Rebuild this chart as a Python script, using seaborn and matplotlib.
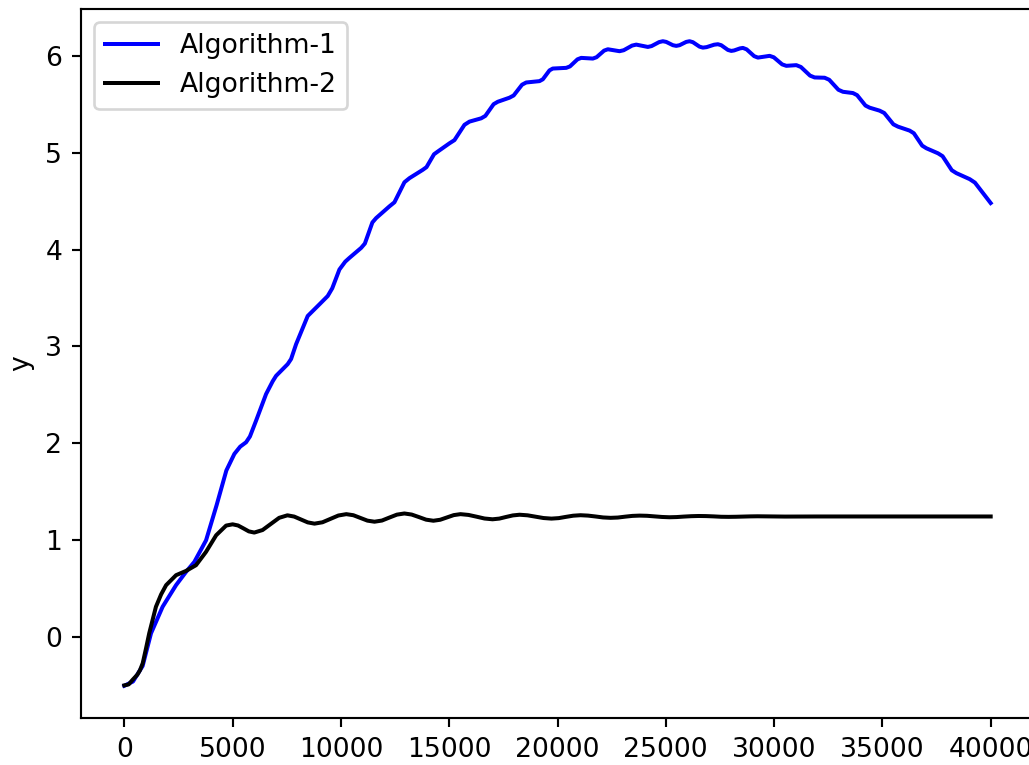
import matplotlib
matplotlib.use("Agg")
import matplotlib.pyplot as plt
import pandas as pd
import seaborn as sns

# Algorithm-1 trajectory (x, y)
algo1_x = [0, 400, 845, 1233, 1769, 2388, 2850, 3233, 3774, 4260, 4711, 5081, 5350,
           5621, 5800, 6083, 6545, 6850, 7007, 7543, 7700, 7931, 8467, 9007, 9390,
           9600, 9931, 10200, 10393, 10933,
           11106, 11453, 11626, 12240, 12471, 12933, 13164, 13778, 13952, 14299,
           14472, 15012, 15243, 15705, 15936, 16476, 16668, 17051, 17243, 17783,
           17976, 18362, 18555, 19169, 19323, 19630, 19783, 20402, 20575, 20922,
           21095, 21631, 21804, 22151, 22324, 22864, 23057, 23443, 23636, 24171,
           24344, 24691, 24864, 25019, 25328, 25483, 25637, 25943, 26097, 26251,
           26557, 26711, 26884, 27231, 27404, 27559, 27868, 28023, 28157, 28425,
           28559, 28732, 29079, 29252, 29793, 29986, 30371, 30564, 31026, 31237,
           31660, 31871, 32333, 32545, 32968, 33179, 33640, 33833, 34218, 34411,
           34873, 35085, 35508, 35719, 36259, 36452, 36837, 37030, 37566, 37779,
           38204, 38416, 39031, 39273, 40000]
algo1_y = [-0.504, -0.460, -0.300, 0.038, 0.312, 0.535, 0.672, 0.775, 0.998, 1.360,
           1.719, 1.890, 1.965, 2.010, 2.070, 2.233, 2.508, 2.640, 2.696, 2.817,
           2.870, 3.023, 3.314, 3.434, 3.520, 3.600, 3.794, 3.875, 3.914, 4.017,
           4.062, 4.280, 4.325, 4.446, 4.488, 4.695,
           4.737, 4.823, 4.851, 4.984, 5.012, 5.097, 5.130, 5.288, 5.321, 5.355,
           5.380, 5.501, 5.526, 5.568, 5.591, 5.702, 5.725, 5.739, 5.758, 5.850,
           5.869, 5.876, 5.891, 5.964, 5.979, 5.972, 5.986, 6.054, 6.068, 6.048,
           6.058, 6.106, 6.116, 6.092, 6.101, 6.142, 6.151, 6.144, 6.110, 6.103,
           6.110, 6.144, 6.151, 6.141, 6.095, 6.085, 6.090, 6.115, 6.120, 6.110,
           6.061, 6.051, 6.056, 6.077, 6.082, 6.067, 5.997, 5.982, 6.000, 5.985,
           5.912, 5.897, 5.904, 5.885, 5.796, 5.777, 5.774, 5.753, 5.650, 5.629,
           5.616, 5.594, 5.487, 5.465, 5.434, 5.410, 5.293, 5.269, 5.228, 5.201,
           5.073, 5.046, 4.994, 4.964, 4.819, 4.789, 4.727, 4.691, 4.480]

# Algorithm-2 trajectory (x, y)
algo2_x = [0, 200, 380, 600, 720, 850, 1000, 1150, 1460, 1700, 1930, 2390, 2850,
           3310, 3770, 4240,
           4700, 5000, 5250, 5500, 5750, 6000, 6383, 6765, 7148, 7530, 7843, 8155,
           8468, 8780, 9148, 9515, 9883, 10250, 10575, 10900, 11225, 11550, 11895,
           12240, 12585, 12930, 13265, 13600, 13935, 14270, 14583, 14895, 15208,
           15520, 15890, 16260, 16630, 17000, 17313, 17625, 17938, 18250, 18618,
           18985, 19353, 19720, 20055, 20390, 20725, 21060, 21408, 21755, 22103,
           22450, 22785, 23120, 23455, 23790, 24135, 24480, 24825, 25170, 25505,
           25840, 26175, 26510, 26858, 27205, 27553, 27900, 28235, 28570, 28905,
           29240, 30500, 32000, 34000, 36000, 38000, 40000]
algo2_y = [-0.50, -0.49, -0.443, -0.39, -0.345, -0.271, -0.12, 0.038, 0.312, 0.44,
           0.535, 0.638, 0.682,
           0.741, 0.878, 1.05, 1.15, 1.163, 1.151, 1.121, 1.090, 1.078, 1.104,
           1.167, 1.230, 1.256, 1.243, 1.213, 1.183, 1.170, 1.184, 1.219, 1.254,
           1.268, 1.257, 1.229, 1.201, 1.190, 1.202, 1.233, 1.263, 1.275, 1.264,
           1.238, 1.211, 1.200, 1.210, 1.234, 1.258, 1.268, 1.260, 1.242, 1.223,
           1.215, 1.222, 1.239, 1.255, 1.262, 1.256, 1.242, 1.228, 1.222, 1.227,
           1.240, 1.252, 1.257, 1.253, 1.244, 1.234, 1.230, 1.233, 1.242, 1.250,
           1.253, 1.251, 1.245, 1.239, 1.236, 1.238, 1.243, 1.247, 1.249, 1.248,
           1.245, 1.241, 1.240, 1.241, 1.243, 1.245, 1.246, 1.243, 1.244, 1.244,
           1.244, 1.244, 1.244]

series_names = ["Algorithm-1", "Algorithm-2"]
series_colors = ["blue", "black"]

df1 = pd.DataFrame({"x": algo1_x, "y": algo1_y})
df2 = pd.DataFrame({"x": algo2_x, "y": algo2_y})

DPI = 192
fig = plt.figure(figsize=(1029 / DPI, 765 / DPI), dpi=DPI)
ax = fig.add_axes([81 / 1029, 47 / 765, 953 / 1029, 709 / 765])

for df, name, col in zip([df1, df2], series_names, series_colors):
    sns.lineplot(data=df, x="x", y="y", ax=ax, color=col, label=name,
                 linewidth=1.5, sort=False, estimator=None)

ax.set_xticks([0, 5000, 10000, 15000, 20000, 25000, 30000, 35000, 40000])
ax.set_yticks([0, 1, 2, 3, 4, 5, 6])
ax.set_xlabel("")
ax.set_ylabel("y")
ax.legend(loc="upper left")

fig.savefig("out.png", dpi=DPI)
